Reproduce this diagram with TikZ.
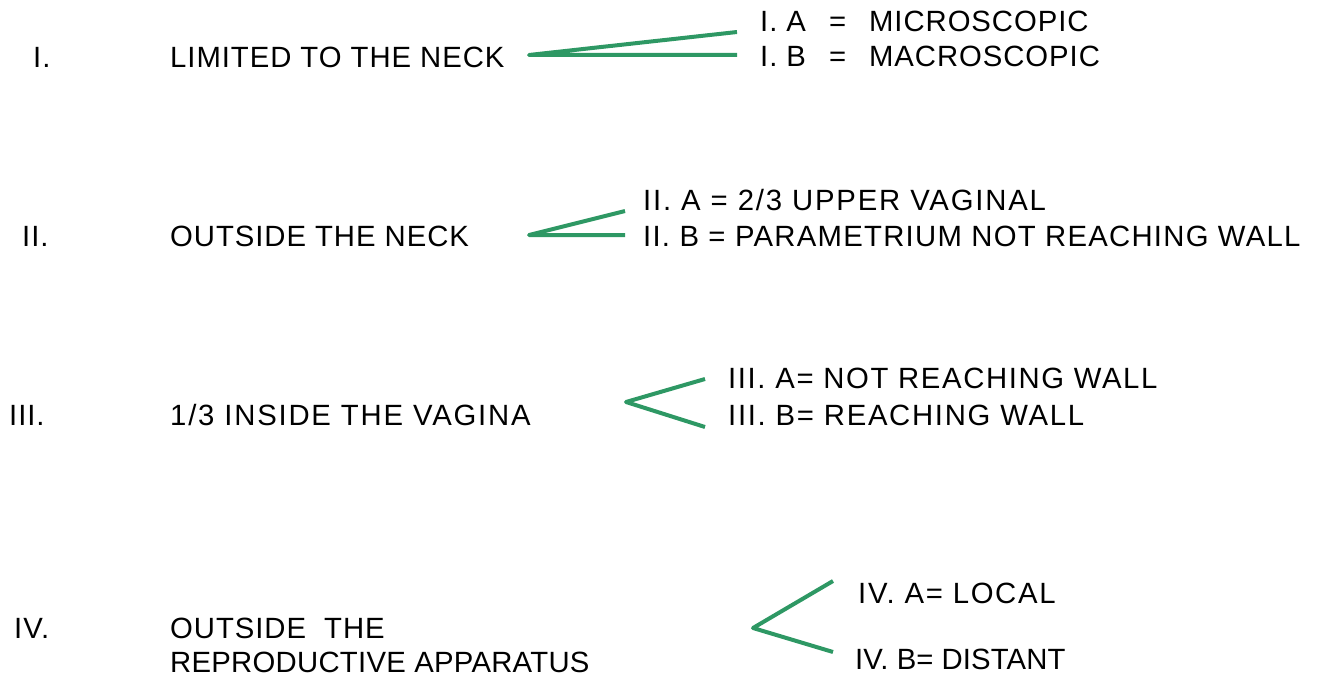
\documentclass[tikz,border=0pt]{standalone}
\usepackage{fontspec}
\setmainfont{Liberation Sans}
\definecolor{branch}{RGB}{46,152,100}
\begin{document}
\begin{tikzpicture}[x=1pt,y=-1pt,
  lab/.style={anchor=base west, inner sep=0pt, font=\fontsize{29.3}{35}\selectfont\addfontfeatures{LetterSpace=#1}},
  lab/.default=3.2,
  br/.style={draw=branch, line width=4pt, line join=round}]
\useasboundingbox (0,0) rectangle (1319,679);
% Row I
\node[lab] (n1) at (33,68) {I.};
\node[lab] (t1) at (170,68) {LIMITED TO THE NECK};
\node[lab] (a1) at (760,32) {I. A\hspace{23pt}=\hspace{23pt}MICROSCOPIC};
\node[lab] (b1) at (760,67) {I. B\hspace{23pt}=\hspace{23pt}MACROSCOPIC};
\coordinate (v1) at (529,55);
\coordinate (e1a) at (737,32);
\coordinate (e1b) at (737,55);
\draw[br] (e1a) -- (v1) -- (e1b);
% Row II
\node[lab] (n2) at (22,246) {II.};
\node[lab] (t2) at (170,246) {OUTSIDE THE NECK};
\node[lab=6.2] (a2) at (643,211) {II. A = 2/3 UPPER VAGINAL};
\node[lab=4.3] (b2) at (643,246) {II. B = PARAMETRIUM NOT REACHING WALL};
\coordinate (v2) at (529,235);
\coordinate (e2a) at (625,211);
\coordinate (e2b) at (625,235);
\draw[br] (e2a) -- (v2) -- (e2b);
% Row III
\node[lab] (n3) at (9,425) {III.};
\node[lab=6.1] (t3) at (170,425) {1/3 INSIDE THE VAGINA};
\node[lab=5.5] (a3) at (728,388) {III. A= NOT REACHING WALL};
\node[lab=5.8] (b3) at (728,425) {III. B= REACHING WALL};
\coordinate (v3) at (626,402);
\coordinate (e3a) at (705,379);
\coordinate (e3b) at (705,427);
\draw[br] (e3a) -- (v3) -- (e3b);
% Row IV
\node[lab] (n4) at (14,638) {IV.};
\node[lab] (t4a) at (170,638) {OUTSIDE\ \ THE};
\node[lab=0.9] (t4b) at (170,672) {REPRODUCTIVE APPARATUS};
\node[lab=5.8] (a4) at (858,603) {IV. A= LOCAL};
\node[lab=0.3] (b4) at (855,669) {IV. B= DISTANT};
\coordinate (v4) at (753,628);
\coordinate (e4a) at (833,581);
\coordinate (e4b) at (833,652);
\draw[br] (e4a) -- (v4) -- (e4b);
\end{tikzpicture}
\end{document}
